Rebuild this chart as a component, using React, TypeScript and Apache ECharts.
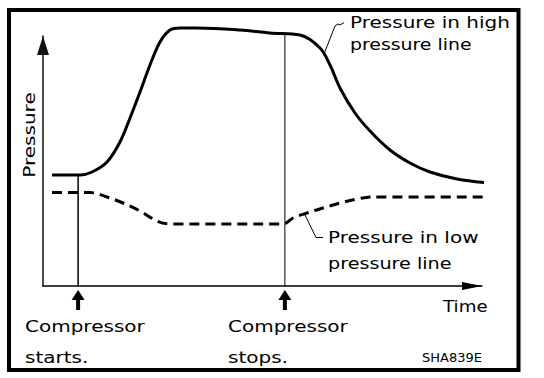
import React, { useEffect, useRef } from "react";
import * as echarts from "echarts";

// Time axis (0–100) and pressure axis (0–100), arbitrary units
const highX = [2.05, 8.43, 11.16, 14.58, 17.54, 19.82, 22.1, 24.37, 26.65, 28.93, 31.21, 35.08, 44.87, 51.71, 58.54, 63.1, 65.38, 67.65, 71.07, 74.49, 79.04, 83.6, 88.15, 94.31, 101.37];
const highY = [44.4, 44.4, 45.6, 49.6, 57.6, 67.2, 77.6, 88.4, 97.6, 102.4, 103.2, 103.2, 102.4, 101.2, 100.4, 95.2, 88.4, 79.2, 69.2, 62.0, 54.4, 49.2, 45.6, 42.8, 41.2];
const lowX = [2.05, 10.71, 14.58, 18.22, 22.1, 25.97, 28.93, 54.67, 56.95, 60.14, 63.78, 67.65, 71.53, 75.17, 101.37];
const lowY = [37.4, 37.4, 35.6, 33.2, 30.0, 26.0, 24.8, 24.8, 27.2, 29.2, 31.2, 33.2, 34.8, 35.6, 35.6];
const eventX = [8, 55.1];
const eventTop = [44.4, 100.8];
const eventLabels = [
  ["Compressor", "starts."],
  ["Compressor", "stops."],
];
const yAxisName = "Pressure";
const xAxisName = "Time";
const highLabel = ["Pressure in high", "pressure line"];
const lowLabel = ["Pressure in low", "pressure line"];
const figureCode = "SHA839E";

const FONT = "DejaVu Sans";

function txt(text: string, x: number, y: number, opts: any = {}) {
  return {
    type: "text",
    x,
    y,
    scaleX: opts.scaleX ?? 1.25,
    rotation: opts.rotation ?? 0,
    style: {
      text,
      fill: "#000",
      fontFamily: FONT,
      fontSize: opts.fontSize ?? 16,
      align: opts.align ?? "left",
      verticalAlign: "middle",
    },
    z: 10,
  };
}

export default function App() {
  const ref = useRef<HTMLDivElement>(null);
  useEffect(() => {
    if (!ref.current) return;
    const chart = echarts.init(ref.current, undefined, { renderer: "svg" });
    const zip = (xs: number[], ys: number[]) => xs.map((x, i) => [x, ys[i]]);
    chart.setOption({
      animation: false,
      backgroundColor: "#fff",
      grid: { left: 43, top: 36, right: 62, bottom: 92 },
      xAxis: {
        type: "value",
        min: 0,
        max: 100,
        axisLine: {
          show: true,
          symbol: ["none", "triangle"],
          symbolSize: [8, 20],
          symbolOffset: [0, -10],
          lineStyle: { color: "#000", width: 1.5 },
        },
        axisTick: { show: false },
        axisLabel: { show: false },
        splitLine: { show: false },
      },
      yAxis: {
        type: "value",
        min: 0,
        max: 100,
        axisLine: {
          show: true,
          symbol: ["none", "triangle"],
          symbolSize: [12, 19],
          symbolOffset: [0, -9.5],
          lineStyle: { color: "#111", width: 1.5 },
        },
        axisTick: { show: false },
        axisLabel: { show: false },
        splitLine: { show: false },
      },
      series: [
        {
          type: "line",
          data: zip(highX, highY),
          smooth: 0.35,
          symbol: "none",
          clip: false,
          lineStyle: { color: "#000", width: 3 },
        },
        {
          type: "line",
          data: zip(lowX, lowY),
          smooth: 0.35,
          symbol: "none",
          clip: false,
          lineStyle: { color: "#000", width: 3, type: [10, 6] },
        },
        {
          type: "line",
          data: [
            [eventX[0], 0],
            [eventX[0], eventTop[0]],
          ],
          symbol: "none",
          clip: false,
          lineStyle: { color: "#000", width: 1.5 },
        },
        {
          type: "line",
          data: [
            [eventX[1], 0],
            [eventX[1], eventTop[1]],
          ],
          symbol: "none",
          clip: false,
          lineStyle: { color: "#000", width: 1 },
        },
      ],
    });

    const px = eventX.map((v) => (chart.convertToPixel({ gridIndex: 0 }, [v, 0]) as number[])[0]);
    const axisY = (chart.convertToPixel({ gridIndex: 0 }, [0, 0]) as number[])[1];

    const arrow = (cx: number) => ({
      type: "polygon",
      shape: {
        points: [
          [cx, axisY + 4],
          [cx + 6.5, axisY + 14],
          [cx + 2, axisY + 14],
          [cx + 2, axisY + 24],
          [cx - 2, axisY + 24],
          [cx - 2, axisY + 14],
          [cx - 6.5, axisY + 14],
        ],
      },
      style: { fill: "#000" },
    });

    chart.setOption({
      graphic: [
        {
          type: "rect",
          shape: { x: 9, y: 10, width: 509.5, height: 360 },
          style: { fill: "none", stroke: "#000", lineWidth: 4 },
        },
        arrow(px[0]),
        arrow(px[1]),
        txt(eventLabels[0][0], 25, 326),
        txt(eventLabels[0][1], 25, 357),
        txt(eventLabels[1][0], 228, 326),
        txt(eventLabels[1][1], 228, 357),
        txt(xAxisName, 443, 306.5, { scaleX: 1.14 }),
        txt(yAxisName, 29, 135, { rotation: Math.PI / 2, align: "center" }),
        txt(highLabel[0], 350, 22.5),
        txt(highLabel[1], 350, 44.5, { scaleX: 1.18 }),
        txt(lowLabel[0], 328, 237.5),
        txt(lowLabel[1], 328, 264, { scaleX: 1.2 }),
        txt(figureCode, 422, 357, { fontSize: 13, scaleX: 1.0 }),
        {
          type: "polyline",
          shape: {
            points: [
              [324, 54],
              [335, 26],
              [338, 24],
              [340, 25],
              [344, 22.5],
            ],
          },
          style: { stroke: "#000", lineWidth: 1, fill: "none" },
        },
        {
          type: "polyline",
          shape: {
            points: [
              [305, 215],
              [316, 237.5],
              [323, 237.5],
            ],
          },
          style: { stroke: "#000", lineWidth: 1, fill: "none" },
        },
      ],
    });

    return () => chart.dispose();
  }, []);
  return (
    <div
      ref={ref}
      style={{ position: "fixed", left: 0, top: 0, width: 544, height: 378, background: "#fff" }}
    />
  );
}
